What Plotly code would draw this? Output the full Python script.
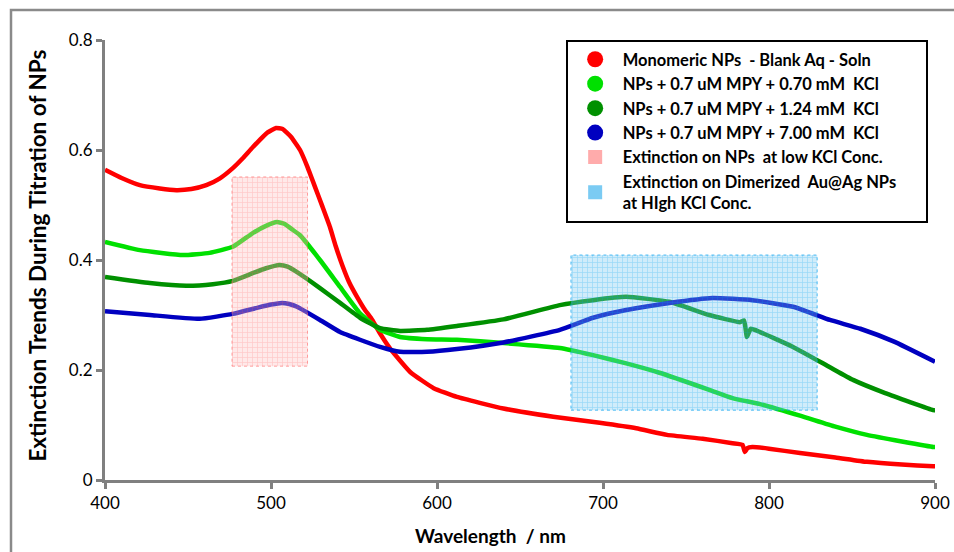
import plotly.graph_objects as go

# ---- data ----
red_x = [400, 410, 421, 433, 443, 452, 461, 469, 477, 483, 489, 498, 503, 507, 512, 517.5, 522, 526.5, 531, 535.5, 539, 543, 547, 552, 556, 561, 566, 572, 584, 598, 612, 640, 670, 698, 720, 738.6, 760, 778, 784, 785.5, 787, 790, 800, 818.7, 840, 859, 880, 899, 900]
red_y = [0.564, 0.549, 0.536, 0.530, 0.527, 0.529, 0.536, 0.548, 0.567, 0.585, 0.605, 0.632, 0.640, 0.638, 0.624, 0.600, 0.569, 0.533, 0.497, 0.460, 0.425, 0.390, 0.360, 0.332, 0.312, 0.291, 0.265, 0.238, 0.196, 0.167, 0.151, 0.130, 0.115, 0.104, 0.094, 0.082, 0.075, 0.067, 0.064, 0.051, 0.058, 0.060, 0.057, 0.049, 0.041, 0.033, 0.028, 0.025, 0.025]

lg_x = [400, 421, 447, 463, 477, 489, 497, 503.6, 508, 513, 517.5, 529.5, 541.6, 553.6, 565.7, 577.7, 594, 612, 640, 674, 694, 714, 734, 764, 778, 794.6, 818.7, 840, 859, 880, 899, 900]
lg_y = [0.433, 0.418, 0.409, 0.413, 0.424, 0.449, 0.462, 0.469, 0.466, 0.455, 0.445, 0.400, 0.351, 0.303, 0.273, 0.260, 0.256, 0.255, 0.249, 0.240, 0.227, 0.212, 0.195, 0.164, 0.149, 0.138, 0.117, 0.097, 0.082, 0.070, 0.060, 0.060]

dg_x = [400, 427, 449, 465, 477, 489, 497, 505, 510, 515.7, 529.5, 541.6, 553.6, 565.7, 577.7, 594, 612, 640, 674, 694, 714, 740, 764, 782.5, 785, 786.7, 789, 794.6, 814.5, 836.7, 850.6, 870, 899, 900]
dg_y = [0.369, 0.358, 0.353, 0.356, 0.362, 0.376, 0.385, 0.391, 0.388, 0.378, 0.349, 0.322, 0.295, 0.276, 0.271, 0.273, 0.280, 0.292, 0.318, 0.327, 0.333, 0.324, 0.300, 0.287, 0.290, 0.260, 0.275, 0.269, 0.242, 0.205, 0.182, 0.158, 0.127, 0.127]

bl_x = [400, 427, 457, 477, 491.6, 500, 506.6, 511, 515.7, 529.5, 541.6, 553.6, 565.7, 577.7, 594, 612, 640, 674, 694, 714, 740, 766, 790, 814.5, 836.7, 855, 875, 900]
bl_y = [0.307, 0.300, 0.293, 0.302, 0.313, 0.319, 0.322, 0.320, 0.315, 0.291, 0.269, 0.255, 0.242, 0.233, 0.233, 0.238, 0.250, 0.273, 0.295, 0.309, 0.322, 0.331, 0.327, 0.315, 0.291, 0.275, 0.252, 0.215]

low_rect_x = [476.5, 522]
low_rect_y = [0.207, 0.551]
high_rect_x = [680.7, 829]
high_rect_y = [0.127, 0.409]

names = [
    "Monomeric NPs  - Blank Aq - Soln",
    "NPs + 0.7 uM MPY + 0.70 mM  KCl",
    "NPs + 0.7 uM MPY + 1.24 mM  KCl",
    "NPs + 0.7 uM MPY + 7.00 mM  KCl",
    "Extinction on NPs  at low KCl Conc.",
    "Extinction on Dimerized  Au@Ag NPs<br>at HIgh KCl Conc.",
]
colors = ["#ff0000", "#00e000", "#009000", "#0000c0"]

FONT = "Lato"
fig = go.Figure()

series = [(red_x, red_y), (lg_x, lg_y), (dg_x, dg_y), (bl_x, bl_y)]
for i, (xs, ys) in enumerate(series):
    fig.add_trace(go.Scatter(x=xs, y=ys, mode="lines", line=dict(color=colors[i], width=4.5, shape="spline", smoothing=0.4),
                             showlegend=False, legendgroup=f"g{i}", hoverinfo="skip"))

def rect_trace(xr, yr, name, fg, bg, line):
    return go.Scatter(x=[xr[0], xr[1], xr[1], xr[0], xr[0]], y=[yr[0], yr[0], yr[1], yr[1], yr[0]],
                      mode="lines", fill="toself", name=name,
                      line=dict(color=line, width=1, dash="dot"),
                      fillcolor=bg,
                      fillpattern=dict(shape="+", fgcolor=fg, bgcolor=bg, size=5, solidity=0.25),
                      showlegend=False, hoverinfo="skip")

fig.add_trace(rect_trace(low_rect_x, low_rect_y, names[4], "rgba(255,80,80,0.45)", "rgba(255,190,190,0.35)", "rgba(255,100,100,0.6)"))
fig.add_trace(rect_trace(high_rect_x, high_rect_y, names[5], "rgba(0,160,240,0.55)", "rgba(120,200,240,0.35)", "rgba(0,160,240,0.7)"))

# legend entries
pad = "\u00a0" * 6
for i in range(4):
    fig.add_trace(go.Scatter(x=[None], y=[None], mode="markers", name=f"<b>{names[i]}</b>",
                             marker=dict(color=colors[i], size=16, symbol="circle"), legendgroup=f"g{i}"))
fig.add_trace(go.Scatter(x=[None], y=[None], mode="markers", name=f"<b>{names[4]}</b>",
                         marker=dict(color="rgba(255,150,150,0.8)", size=14, symbol="square")))
fig.add_trace(go.Scatter(x=[None], y=[None], mode="markers", name=f"<b>{names[5].replace('<br>', pad + '<br>')}</b>",
                         marker=dict(color="rgba(90,190,240,0.8)", size=14, symbol="square")))

axis_common = dict(showgrid=False, zeroline=False, showline=True, linecolor="#808080", linewidth=3,
                   ticks="outside", tickcolor="#808080", tickwidth=3, ticklen=6, automargin=False,
                   tickfont=dict(family=FONT, size=17, color="#000"))

fig.update_layout(
    width=954, height=552,
    margin=dict(l=105, r=19, t=40, b=72),
    paper_bgcolor="white", plot_bgcolor="white",
    font=dict(family=FONT, color="#000"),
    xaxis=dict(range=[400, 900], tickvals=[400, 500, 600, 700, 800, 900], **axis_common),
    yaxis=dict(range=[0, 0.8], tickvals=[0, 0.2, 0.4, 0.6, 0.8], ticktext=["0", "0.2", "0.4", "0.6", "0.8"],
               **axis_common),
    legend=dict(x=0.555, y=1.0, xanchor="left", yanchor="top", bgcolor="white",
                bordercolor="#000", borderwidth=2, font=dict(family=FONT, size=16.5, color="#000"),
                itemsizing="trace", itemwidth=45, tracegroupgap=0),
    showlegend=True,
    annotations=[
        dict(text="<b>Wavelength  / nm</b>", xref="paper", yref="paper", x=0.465, y=(480 - 535) / 440,
             xanchor="center", yanchor="middle", showarrow=False, font=dict(family=FONT, size=19, color="#000")),
        dict(text="<b>Extinction Trends During Titration of NPs</b>", xref="paper", yref="paper",
             x=(38 - 105) / 830, y=0.51, xanchor="center", yanchor="middle", textangle=-90, showarrow=False,
             font=dict(family=FONT, size=22.5, color="#000")),
    ],
    shapes=[dict(type="rect", xref="paper", yref="paper", x0=(11 - 105) / 830, x1=1.2,
                 y0=-0.3, y1=(480 - 10) / 440, line=dict(color="#8a8a8a", width=2.5), fillcolor="rgba(0,0,0,0)", layer="below")],
)

fig.write_html("out.html")
